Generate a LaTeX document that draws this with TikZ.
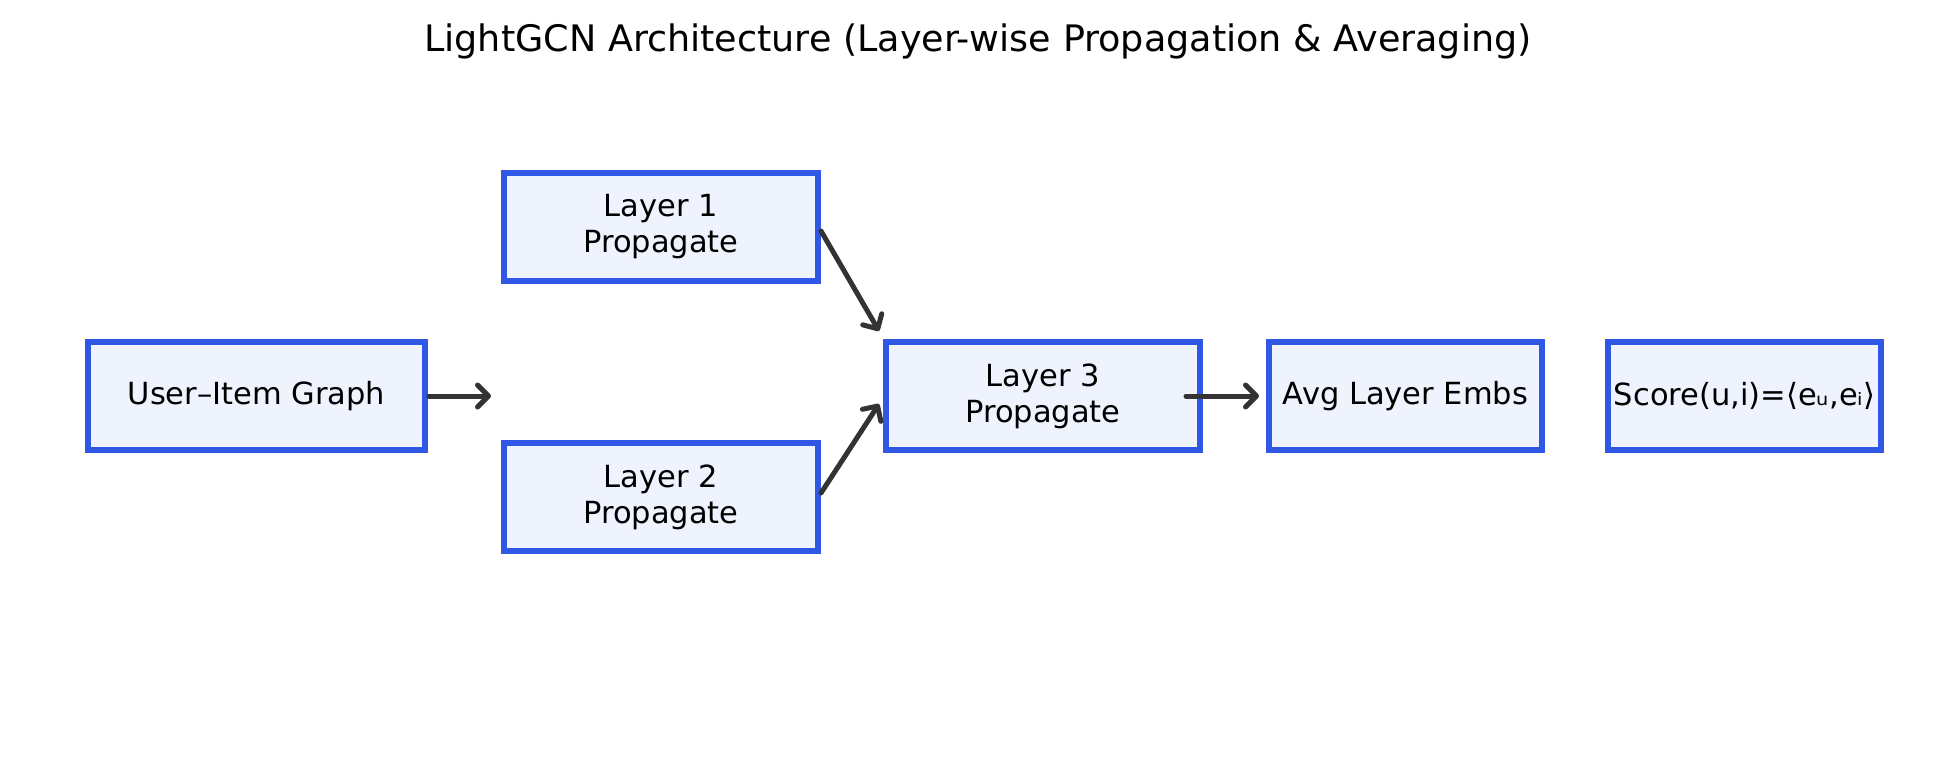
\documentclass[tikz,border=0pt]{standalone}
\usepackage{fontspec}
\setmainfont{DejaVu Sans}
\usetikzlibrary{arrows.meta}
\definecolor{boxblue}{HTML}{3057E6}
\definecolor{boxfill}{HTML}{EEF3FD}
\definecolor{arrowgray}{HTML}{333333}
\begin{document}
\begin{tikzpicture}[x=1pt, y=-1pt]
    % Styles
    \tikzstyle{block} = [rectangle, draw=boxblue, fill=boxfill, line width=5.5pt,
        align=center, font=\fontsize{30.5}{36}\selectfont, inner sep=0pt, outer sep=0pt,
        minimum height=108pt]
    \tikzstyle{arrow} = [draw=arrowgray, line width=5pt, line cap=round,
        -{Straight Barb[length=11pt, width=22pt, line cap=round, line join=round]}]

    \useasboundingbox (0,0) rectangle (1957,768);

    % Title
    \node (title) at (978,41) {\fontsize{36.5}{42}\selectfont LightGCN Architecture (Layer-wise Propagation \& Averaging)};

    % Nodes
    \node [block, minimum width=337pt] (graph) at (256.5,396) {User–Item Graph};
    \node [block, minimum width=314pt] (layer1) at (661,227) {Layer 1\\Propagate};
    \node [block, minimum width=314pt] (layer2) at (661,497) {Layer 2\\Propagate};
    \node [block, minimum width=314pt] (layer3) at (1043,396) {Layer 3\\Propagate};
    \node [block, minimum width=273pt] (avg) at (1405.5,396) {Avg Layer Embs};
    \node [block, minimum width=273pt] (score) at (1744.5,396) {Score(u,i)=⟨eᵤ,eᵢ⟩};

    % Free ends
    \coordinate (graphend) at (491,396);
    \coordinate (l1end) at (879,331);
    \coordinate (l2end) at (879,404);
    \coordinate (l3start) at (1186,396);

    % Arrows
    \draw [arrow] ([xshift=4pt]graph.east) -- (graphend);
    \draw [arrow] ([shift={(3pt,-4pt)}]layer1.east) -- (l1end);
    \draw [arrow] ([shift={(3pt,4pt)}]layer2.east) -- (l2end);
    \draw [arrow] (l3start) -- ([xshift=-10pt]avg.west);
\end{tikzpicture}
\end{document}
